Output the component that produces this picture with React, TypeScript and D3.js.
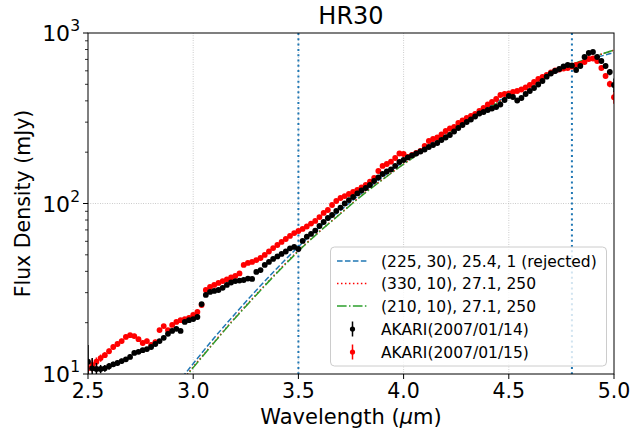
import React from 'react';
import * as d3 from 'd3';

const wavelengths = [
  2.50, 2.52, 2.54, 2.56, 2.58, 2.60, 2.62, 2.64, 2.66, 2.68, 2.70, 2.72, 2.74, 2.76, 2.78, 2.80, 2.82, 2.84, 2.86, 2.88, 2.90, 2.92, 2.94, 2.96, 2.98,
  3.00, 3.02, 3.04, 3.06, 3.08, 3.10, 3.12, 3.14, 3.16, 3.18, 3.20, 3.22, 3.24, 3.26, 3.28, 3.30, 3.32, 3.34, 3.36, 3.38, 3.40, 3.42, 3.44, 3.46, 3.48,
  3.50, 3.52, 3.54, 3.56, 3.58, 3.60, 3.62, 3.64, 3.66, 3.68, 3.70, 3.72, 3.74, 3.76, 3.78, 3.80, 3.82, 3.84, 3.86, 3.88, 3.90, 3.92, 3.94, 3.96, 3.98,
  4.00, 4.02, 4.04, 4.06, 4.08, 4.10, 4.12, 4.14, 4.16, 4.18, 4.20, 4.22, 4.24, 4.26, 4.28, 4.30, 4.32, 4.34, 4.36, 4.38, 4.40, 4.42, 4.44, 4.46, 4.48,
  4.50, 4.52, 4.54, 4.56, 4.58, 4.60, 4.62, 4.64, 4.66, 4.68, 4.70, 4.72, 4.74, 4.76, 4.78, 4.80, 4.82, 4.84, 4.86, 4.88, 4.90, 4.92, 4.94, 4.96, 4.98,
  5.00,
];

const akari0114 = [
  11.8, 10.8, 10.7, 10.7, 10.8, 11.1, 11.4, 11.6, 11.9, 12.2, 12.6, 13.3, 13.5, 13.8, 14.0, 14.4, 15.0, 15.6, 16.3, 17.2, 17.9, 18.4, 17.9, 20.2, 20.7,
  21.0, 21.6, 25.7, 29.1, 30.3, 30.7, 31.1, 32.0, 33.3, 34.4, 35.1, 35.3, 35.6, 36.3, 36.1, 39.7, 40.7, 43.6, 45.4, 47.3, 48.9, 50.6, 52.3, 54.6, 55.6,
  54.1, 60.3, 63.9, 66.3, 69.4, 73.8, 77.9, 82.2, 85.6, 90.4, 94.7, 100.0, 104.8, 109.2, 114.5, 119.2, 123.3, 128.4, 135.5, 142.1, 148.9, 154.1, 158.3, 166.0, 175.2,
  180.0, 186.2, 191.3, 196.5, 201.8, 207.4, 214.5, 220.4, 226.4, 235.7, 243.8, 252.2, 264.4, 277.2, 288.7, 300.6, 311.0, 323.8, 337.2, 344.1, 353.5, 360.7, 368.1, 380.7, 404.6,
  427.1, 421.3, 401.9, 415.6, 438.8, 456.9, 475.8, 498.9, 523.0, 554.3, 578.8, 598.4, 614.8, 636.0, 649.0, 644.6, 606.7, 640.3, 723.3, 763.4, 773.7, 723.3, 685.3, 640.3, 590.4,
  495.5,
];

const akari0114Err = [
  3.0, 1.6, 0.9, 0.6, 0.5, 0.5, 0.4, 0.4, 0.4, 0.4, 0.4, 0.4, 0.4, 0.4, 0.4, 0.4, 0.4, 0.4, 0.5, 0.5, 0.5, 0.5, 0.5, 0.5, 0.5,
  0.5, 0.5, 0.6, 0.6, 0.6, 0.6, 0.6, 0.6, 0.6, 0.6, 0.7, 0.7, 0.7, 0.7, 0.7, 0.7, 0.8, 0.8, 0.8, 0.9, 0.9, 0.9, 1.0, 1.0, 1.0,
  1.0, 1.1, 1.1, 1.2, 1.2, 1.3, 1.3, 1.4, 1.4, 1.5, 1.5, 1.6, 1.6, 1.7, 1.7, 1.8, 1.8, 1.9, 2.0, 2.1, 2.2, 2.2, 2.3, 2.4, 2.5,
  2.6, 2.7, 2.8, 2.8, 2.9, 3.0, 3.1, 3.2, 3.3, 3.4, 3.5, 3.6, 3.8, 4.0, 4.1, 4.3, 4.5, 4.7, 4.9, 5.0, 5.2, 5.3, 5.5, 5.7, 6.0,
  6.5, 6.5, 6.5, 6.8, 7.0, 7.5, 8, 8, 9, 9, 10, 10, 11, 11, 12, 12, 12, 13, 14, 15, 16, 17, 18, 20, 25,
  45,
];

const akari0115 = [
  10.8, 11.3, 11.8, 12.4, 12.9, 13.6, 14.4, 15.0, 15.6, 16.5, 16.9, 16.7, 16.0, 15.2, 15.6, 14.8, 15.4, 18.1, 19.1, 18.1, 19.4, 20.2, 20.7, 21.0, 21.3,
  22.2, 23.1, 25.4, 31.1, 32.4, 33.3, 34.2, 35.1, 35.9, 36.8, 37.6, 38.9, 43.6, 44.8, 45.4, 46.6, 47.9, 49.9, 52.3, 54.8, 57.1, 59.5, 61.9, 64.5, 67.1,
  69.0, 70.9, 73.3, 76.3, 79.0, 83.3, 88.0, 91.6, 98.0, 103.4, 107.7, 110.6, 113.7, 116.8, 120.0, 124.1, 128.4, 134.2, 141.1, 155.1, 166.0, 170.5, 175.9, 184.9, 196.5,
  195.1, 187.4, 192.5, 197.8, 203.2, 217.4, 232.5, 238.9, 243.8, 254.0, 266.2, 275.4, 281.0, 296.6, 306.8, 317.3, 326.0, 334.9, 348.7, 363.1, 380.7, 393.8, 410.1, 432.9, 438.8,
  441.8, 450.8, 456.9, 466.3, 478.9, 495.5, 516.0, 537.3, 552.0, 567.1, 586.6, 602.6, 610.7, 619.0, 623.2, 636.0, 649.0, 658.0, 676.0, 704.0, 708.7, 685.3, 623.2, 559.6, 502.2,
  420.0,
];

const akari0115Err = [
  1.5, 1.0, 0.7, 0.6, 0.5, 0.5, 0.5, 0.5, 0.5, 0.5, 0.5, 0.5, 0.5, 0.5, 0.5, 0.5, 0.5, 0.5, 0.5, 0.5, 0.5, 0.5, 0.5, 0.5, 0.5,
  0.6, 0.6, 0.6, 0.7, 0.7, 0.7, 0.7, 0.7, 0.7, 0.8, 0.8, 0.8, 0.9, 0.9, 0.9, 0.9, 1.0, 1.0, 1.0, 1.1, 1.1, 1.2, 1.2, 1.3, 1.3,
  1.4, 1.4, 1.5, 1.5, 1.6, 1.7, 1.8, 1.8, 2.0, 2.1, 2.2, 2.2, 2.3, 2.3, 2.4, 2.5, 2.6, 2.7, 2.8, 3.1, 3.3, 3.4, 3.5, 3.7, 3.9,
  3.9, 3.7, 3.9, 4.0, 4.1, 4.3, 4.6, 4.8, 4.9, 5.1, 5.3, 5.5, 5.6, 5.9, 6.1, 6.3, 6.5, 6.7, 7.0, 7.3, 7.6, 7.9, 8.2, 8.7, 8.8,
  8.8, 9.0, 9.1, 9.3, 9.6, 9.9, 10, 11, 11, 11, 12, 12, 12, 12, 13, 13, 13, 14, 14, 15, 15, 16, 17, 18, 22,
  35,
];

const modelWavelengths = [2.9, 3.0, 3.1, 3.2, 3.3, 3.4, 3.5, 3.6, 3.7, 3.8, 3.9, 4.0, 4.1, 4.2, 4.3, 4.4, 4.5, 4.6, 4.7, 4.8, 4.9, 5.0];
const model225_30 = [8.05, 11.5, 16.3, 22.6, 31.0, 41.9, 55.8, 72.5, 91.2, 114.8, 143.0, 176.0, 214.0, 260.0, 309.0, 367.0, 431.5, 501.0, 569.0, 638.0, 708.0, 767.0];
const model330_10 = [7.7, 11.0, 15.4, 21.5, 29.3, 39.7, 52.9, 68.5, 87.5, 111.5, 138.5, 170.5, 207.0, 251.5, 302.5, 359.5, 427.0, 501.5, 575.5, 653.0, 724.0, 793.0];
const model210_10 = [7.66, 10.9, 15.3, 21.3, 29.1, 39.4, 52.5, 68.3, 87.1, 110.9, 138.0, 170.0, 206.5, 251.0, 302.0, 359.0, 426.6, 501.0, 575.0, 653.0, 724.0, 794.3];

const windowLines = [3.5, 4.8];
const xTicks = [2.5, 3.0, 3.5, 4.0, 4.5, 5.0];
const yMajorExp = [1, 2, 3];
const legendLabels = [
  '(225, 30), 25.4, 1 (rejected)',
  '(330, 10), 27.1, 250',
  '(210, 10), 27.1, 250',
  'AKARI(2007/01/14)',
  'AKARI(2007/01/15)',
];

const FONT = 'DejaVu Sans, Liberation Sans, sans-serif';

export default function App() {
  const W = 634, H = 436;
  const L = 88, R = 614, T = 33, B = 374;
  const x = d3.scaleLinear().domain([2.5, 5.0]).range([L, R]);
  const y = d3.scaleLog().domain([10, 1000]).range([B, T]);

  const minor = y.ticks().filter((v) => ![10, 100, 1000].includes(v));

  const line = d3
    .line<number>()
    .x((_, i) => x(modelWavelengths[i]))
    .curve(d3.curveMonotoneX);

  const mkLine = (vals: number[]) => line.y((_, i) => y(vals[i]))(vals) || '';

  const black = { vals: akari0114, err: akari0114Err, color: '#000000' };
  const red = { vals: akari0115, err: akari0115Err, color: '#ff0000' };
  const legendSeries = [black, red];
  const drawOrder = [red, black];

  const models = [
    { vals: model225_30, color: '#1f77b4', dash: '5.55,2.4' },
    { vals: model330_10, color: '#ff0000', dash: '1.5,2.48' },
    { vals: model210_10, color: '#2ca02c', dash: '9.6,2.4,1.5,2.4' },
  ];

  const legX = 330.5, legY = 247, legW = 276, legH = 119;
  const rowY = [261, 283.5, 306, 329, 352];

  return (
    <svg width={W} height={H} style={{ position: 'absolute', left: 0, top: 0, background: '#fff' }} fontFamily={FONT}>
      <defs>
        <clipPath id="plotclip">
          <rect x={L} y={T} width={R - L} height={B - T} />
        </clipPath>
      </defs>
      <rect x={0} y={0} width={W} height={H} fill="#fff" />

      {/* grid */}
      <g stroke="#b0b0b0" strokeWidth={0.8} strokeDasharray="0.8,1.6">
        {xTicks.slice(1, -1).map((t) => (
          <line key={'gx' + t} x1={x(t)} x2={x(t)} y1={T} y2={B} />
        ))}
        <line x1={L} x2={R} y1={y(100)} y2={y(100)} />
      </g>

      <g clipPath="url(#plotclip)">
        {windowLines.map((w) => (
          <line key={'w' + w} x1={x(w)} x2={x(w)} y1={T} y2={B} stroke="#1f77b4" strokeWidth={2} strokeDasharray="2,3.3" />
        ))}
        {models.map((m, i) => (
          <path key={'m' + i} d={mkLine(m.vals)} fill="none" stroke={m.color} strokeWidth={1.5} strokeDasharray={m.dash} />
        ))}
        {drawOrder.map((s, si) => (
          <g key={'s' + si}>
            {s.vals.map((v, i) => (
              <line key={'e' + i} x1={x(wavelengths[i])} x2={x(wavelengths[i])} y1={y(v + s.err[i])} y2={y(Math.max(v - s.err[i], 1))} stroke={s.color} strokeWidth={1.5} />
            ))}
            {s.vals.map((v, i) => (
              <circle key={'p' + i} cx={x(wavelengths[i])} cy={y(v)} r={2.9} fill={s.color} />
            ))}
          </g>
        ))}
      </g>

      <rect x={L} y={T} width={R - L} height={B - T} fill="none" stroke="#000" strokeWidth={1} />

      {xTicks.map((t) => (
        <g key={'xt' + t}>
          <line x1={x(t)} x2={x(t)} y1={B} y2={B + 5} stroke="#000" strokeWidth={1} />
          <text x={x(t)} y={B + 24} textAnchor="middle" fontSize={20.5} fill="#000">
            {t.toFixed(1)}
          </text>
        </g>
      ))}

      {yMajorExp.map((e) => {
        const yy = y(Math.pow(10, e));
        return (
          <g key={'yt' + e}>
            <line x1={L - 5} x2={L} y1={yy} y2={yy} stroke="#000" strokeWidth={1} />
            <text x={L - 8} y={yy + 8} textAnchor="end" fill="#000" fontSize={22}>
              <tspan>10</tspan>
              <tspan dy={-10} fontSize={15.5}>{e}</tspan>
            </text>
          </g>
        );
      })}
      {minor.map((v) => (
        <line key={'ym' + v} x1={L - 3} x2={L} y1={y(v)} y2={y(v)} stroke="#000" strokeWidth={0.8} />
      ))}

      <text x={(L + R) / 2} y={24} textAnchor="middle" fontSize={24} fill="#000">HR30</text>
      <text x={(L + R) / 2} y={424} textAnchor="middle" fontSize={21} fill="#000">
        Wavelength (<tspan fontStyle="italic">μ</tspan>m)
      </text>
      <text transform={`translate(30,${(T + B) / 2}) rotate(-90)`} textAnchor="middle" fontSize={20.5} fill="#000">
        Flux Density (mJy)
      </text>

      <g>
        <rect x={legX} y={legY} width={legW} height={legH} rx={4} fill="#fff" fillOpacity={0.8} stroke="#cccccc" strokeWidth={1} />
        {models.map((m, i) => (
          <line key={'lm' + i} x1={337} x2={368} y1={rowY[i]} y2={rowY[i]} stroke={m.color} strokeWidth={1.5} strokeDasharray={m.dash} />
        ))}
        {legendSeries.map((s, i) => (
          <g key={'ls' + i}>
            <line x1={352.5} x2={352.5} y1={rowY[3 + i] - 7.5} y2={rowY[3 + i] + 7.5} stroke={s.color} strokeWidth={1.5} />
            <circle cx={352.5} cy={rowY[3 + i]} r={2.6} fill={s.color} />
          </g>
        ))}
        {legendLabels.map((t, i) => (
          <text key={'lt' + i} x={381} y={rowY[i] + 5.5} fontSize={15.5} fill="#000">
            {t}
          </text>
        ))}
      </g>
    </svg>
  );
}
